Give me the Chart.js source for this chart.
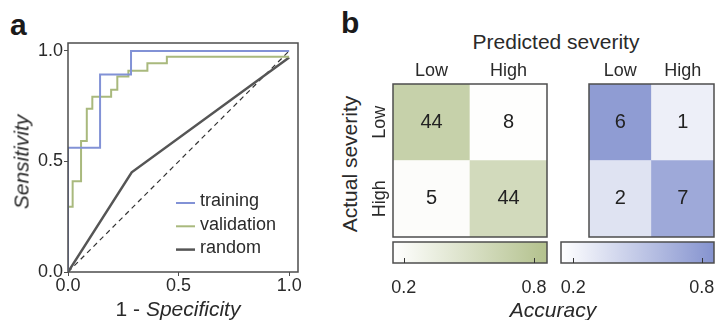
<!DOCTYPE html>
<html>
<head>
<meta charset="utf-8">
<script src="https://cdn.jsdelivr.net/npm/chart.js@4.4.1/dist/chart.umd.min.js"></script>
<style>
  html, body { margin: 0; padding: 0; background: #fff; }
  body {
    width: 715px; height: 320px; position: relative; overflow: hidden;
    font-family: "Liberation Sans", Arial, sans-serif; color: #2a2a2a;
  }
  canvas { position: absolute; }
  .t {
    position: absolute; line-height: 1; white-space: nowrap; font-size: 21px;
    transform: translate(-50%, -50%);
  }
  .rot { transform: translate(-50%, -50%) rotate(-90deg); }
  .panel { position: absolute; font-size: 30px; font-weight: bold; line-height: 1; color: #1a1a1a; }
</style>
</head>
<body>
<div class="panel" style="left:10px; top:10px">a</div>
<div class="panel" style="left:341px; top:8px">b</div>

<canvas id="roc" width="310" height="300" style="left:0; top:0"></canvas>
<div class="t rot" style="left:21px; top:162px"><i>Sensitivity</i></div>
<div class="t" style="left:178px; top:308px">1 - <i>Specificity</i></div>

<div class="t" style="left:556px; top:41px">Predicted severity</div>
<div class="t rot" style="left:349px; top:164px">Actual severity</div>
<canvas id="cmLeft" width="185" height="185" style="left:365px; top:55px"></canvas>
<canvas id="cmRight" width="165" height="185" style="left:555px; top:55px"></canvas>
<canvas id="barLeft" width="175" height="70" style="left:380px; top:236px"></canvas>
<canvas id="barRight" width="165" height="70" style="left:555px; top:236px"></canvas>
<div class="t" style="left:553px; top:309px"><i>Accuracy</i></div>

<script>
// ROC curves (1 - specificity vs sensitivity)
const ROC_TICKS = [0, 0.5, 1];
const TRAIN_FPR = [0, 0.145, 0.285, 1];
const TRAIN_TPR = [0, 0.562, 0.894, 1];
const VALID_FPR = [0, 0.021, 0.059, 0.085, 0.11, 0.195, 0.223, 0.273, 0.359, 0.447, 1];
const VALID_TPR = [0, 0.295, 0.41, 0.593, 0.738, 0.793, 0.824, 0.884, 0.911, 0.944, 0.974];
const RANDOM_FPR = [0, 0.288, 1];
const RANDOM_TPR = [0, 0.451, 0.97];
const CHANCE = [0, 1];

// confusion matrices: rows = actual, columns = predicted
const PREDICTED = ['Low', 'High'];
const ACTUAL = ['Low', 'High'];
const COUNTS_LEFT = [[44, 8], [5, 44]];
const ACC_LEFT = [[0.68, 0.16], [0.18, 0.57]];
const COUNTS_RIGHT = [[6, 1], [2, 7]];
const ACC_RIGHT = [[0.80, 0.25], [0.33, 0.71]];

// colour bar ranges and ticks
const RANGE_LEFT = [0.15, 0.86];
const RANGE_RIGHT = [0.143, 0.857];
const BAR_TICKS = [0.2, 0.8];

const FONT = '"Liberation Sans", Arial, sans-serif';
const INK = '#2a2a2a';
const GREEN = [179, 193, 141];
const BLUE = [133, 147, 207];

Chart.defaults.font.family = FONT;
Chart.defaults.color = INK;
Chart.defaults.animation = false;
Chart.defaults.plugins.legend.display = false;
Chart.defaults.plugins.tooltip.enabled = false;

const pts = (xs, ys) => xs.map((x, i) => ({ x, y: ys[i] }));

function shade(v, range, hue) {
  const t = Math.min(1, Math.max(0, (v - range[0]) / (range[1] - range[0])));
  const c = hue.map(h => Math.round(255 + (h - 255) * t));
  return `rgb(${c[0]}, ${c[1]}, ${c[2]})`;
}

// box around the plotting area
const frame = {
  id: 'frame',
  afterDraw(chart) {
    const { ctx, chartArea: a } = chart;
    ctx.save();
    ctx.strokeStyle = '#4d4d4d';
    ctx.lineWidth = 1.5;
    ctx.strokeRect(a.left, a.top, a.right - a.left, a.bottom - a.top);
    ctx.restore();
  }
};

const rocLegend = {
  id: 'rocLegend',
  afterDraw(chart) {
    const { ctx, chartArea: a } = chart;
    ctx.save();
    ctx.font = '18px ' + FONT;
    ctx.textBaseline = 'middle';
    ctx.fillStyle = INK;
    chart.data.datasets.filter(d => d.label).forEach((d, i) => {
      const y = a.top + 160 + i * 23.3;
      const x = a.left + 108;
      ctx.strokeStyle = d.borderColor;
      ctx.lineWidth = d.borderWidth;
      ctx.beginPath();
      ctx.moveTo(x, y);
      ctx.lineTo(x + 19, y);
      ctx.stroke();
      ctx.fillText(d.label, x + 24, y - 1.5);
    });
    ctx.restore();
  }
};

const rocAxis = (afterFit) => ({
  type: 'linear',
  min: 0,
  afterBuildTicks: s => { s.ticks = ROC_TICKS.map(value => ({ value })); },
  afterFit,
  grid: { drawOnChartArea: false, tickLength: 4, color: '#4d4d4d' },
  border: { display: false },
  ticks: { font: { size: 18, lineHeight: 1 }, padding: 1, color: INK, callback: v => v.toFixed(1) }
});

new Chart(document.getElementById('roc'), {
  type: 'scatter',
  data: {
    datasets: [
      { label: 'training', data: pts(TRAIN_FPR, TRAIN_TPR), stepped: 'after',
        borderColor: '#8292d6', borderWidth: 2, showLine: true, pointRadius: 0 },
      { label: 'validation', data: pts(VALID_FPR, VALID_TPR), stepped: 'after',
        borderColor: '#a9b97d', borderWidth: 2, showLine: true, pointRadius: 0 },
      { label: 'random', data: pts(RANDOM_FPR, RANDOM_TPR),
        borderColor: '#555555', borderWidth: 2.5, showLine: true, pointRadius: 0 },
      { data: pts(CHANCE, CHANCE), borderColor: '#333333', borderWidth: 1.2,
        borderDash: [5, 4], showLine: true, pointRadius: 0 }
    ]
  },
  options: {
    responsive: false,
    layout: { padding: { top: 43, right: 12, left: 0, bottom: 0 } },
    scales: {
      x: { ...rocAxis(s => { s.height = 28; }), max: 1.04 },
      y: { ...rocAxis(s => { s.width = 68; }), max: 1.036 }
    }
  },
  plugins: [frame, rocLegend]
});

// counts written in the middle of each cell
const cellText = {
  id: 'cellText',
  afterDatasetsDraw(chart) {
    const { ctx } = chart;
    ctx.save();
    ctx.font = '20px ' + FONT;
    ctx.fillStyle = '#222';
    ctx.textAlign = 'center';
    ctx.textBaseline = 'middle';
    chart.data.datasets.forEach((ds, i) => {
      chart.getDatasetMeta(i).data.forEach((bar, c) => {
        const { x, y, base } = bar.getProps(['x', 'y', 'base'], true);
        ctx.fillText(String(ds.counts[c]), x, (y + base) / 2);
      });
    });
    ctx.restore();
  }
};

// actual-class labels, rotated, beside the rows
const rowLabels = {
  id: 'rowLabels',
  afterDraw(chart) {
    const { ctx, chartArea: a, scales } = chart;
    ctx.save();
    ctx.font = '18px ' + FONT;
    ctx.fillStyle = INK;
    ctx.textAlign = 'center';
    ctx.textBaseline = 'alphabetic';
    ACTUAL.forEach((label, r) => {
      const y = scales.y.getPixelForValue(ACTUAL.length - r - 0.5);
      ctx.save();
      ctx.translate(a.left - 8.4, y);
      ctx.rotate(-Math.PI / 2);
      ctx.fillText(label, 0, 0);
      ctx.restore();
    });
    ctx.restore();
  }
};

function matrix(id, counts, acc, range, hue, withRows) {
  const datasets = ACTUAL.map((row, r) => ({
    label: row,
    data: PREDICTED.map(() => 1),
    counts: counts[r],
    backgroundColor: acc[r].map(v => shade(v, range, hue)),
    borderWidth: 0,
    barPercentage: 1,
    categoryPercentage: 1
  })).reverse();

  new Chart(document.getElementById(id), {
    type: 'bar',
    data: { labels: PREDICTED, datasets },
    options: {
      responsive: false,
      layout: { padding: withRows ? { right: 3, bottom: 3 } : { left: 6, right: 6, bottom: 3 } },
      scales: {
        x: {
          position: 'top', stacked: true,
          grid: { display: false, drawTicks: false }, border: { display: false },
          ticks: { font: { size: 18, lineHeight: 1 }, padding: 3.5, color: INK },
          afterFit: s => { s.height = 29; }
        },
        y: {
          stacked: true, min: 0, max: ACTUAL.length, display: withRows,
          grid: { display: false, drawTicks: false }, border: { display: false },
          ticks: { display: false },
          afterFit: s => { s.width = 28; }
        }
      }
    },
    plugins: withRows ? [cellText, frame, rowLabels] : [cellText, frame]
  });
}

// small tick marks inside the bottom edge of a colour bar
const barTicks = {
  id: 'barTicks',
  afterDraw(chart) {
    const { ctx, chartArea: a, scales } = chart;
    ctx.save();
    ctx.strokeStyle = '#333';
    ctx.lineWidth = 1;
    scales.x.ticks.forEach(t => {
      const x = Math.round(scales.x.getPixelForValue(t.value)) + 0.5;
      ctx.beginPath();
      ctx.moveTo(x, a.bottom);
      ctx.lineTo(x, a.bottom - 5);
      ctx.stroke();
    });
    ctx.restore();
  }
};

function colorbar(id, range, hue, pad) {
  new Chart(document.getElementById(id), {
    type: 'bar',
    data: {
      labels: ['Accuracy'],
      datasets: [{
        data: [range],
        backgroundColor: ctx => {
          const area = ctx.chart.chartArea;
          if (!area) return shade(range[1], range, hue);
          const g = ctx.chart.ctx.createLinearGradient(area.left, 0, area.right, 0);
          g.addColorStop(0, shade(range[0], range, hue));
          g.addColorStop(1, shade(range[1], range, hue));
          return g;
        },
        borderWidth: 0,
        barPercentage: 1,
        categoryPercentage: 1
      }]
    },
    options: {
      indexAxis: 'y',
      responsive: false,
      layout: { padding: { left: pad[0], right: pad[1], top: 6 } },
      scales: {
        x: {
          min: range[0], max: range[1],
          afterBuildTicks: s => { s.ticks = BAR_TICKS.map(value => ({ value })); },
          grid: { display: false, drawTicks: false }, border: { display: false },
          ticks: { font: { size: 18, lineHeight: '46px' }, padding: 2, color: INK, callback: v => v.toFixed(1) },
          afterFit: s => { s.height = 43; }
        },
        y: { display: false }
      }
    },
    plugins: [frame, barTicks]
  });
}

matrix('cmLeft', COUNTS_LEFT, ACC_LEFT, RANGE_LEFT, GREEN, true);
matrix('cmRight', COUNTS_RIGHT, ACC_RIGHT, RANGE_RIGHT, BLUE, false);
colorbar('barLeft', RANGE_LEFT, GREEN, [13, 8]);
colorbar('barRight', RANGE_RIGHT, BLUE, [6, 6]);
</script>
</body>
</html>
